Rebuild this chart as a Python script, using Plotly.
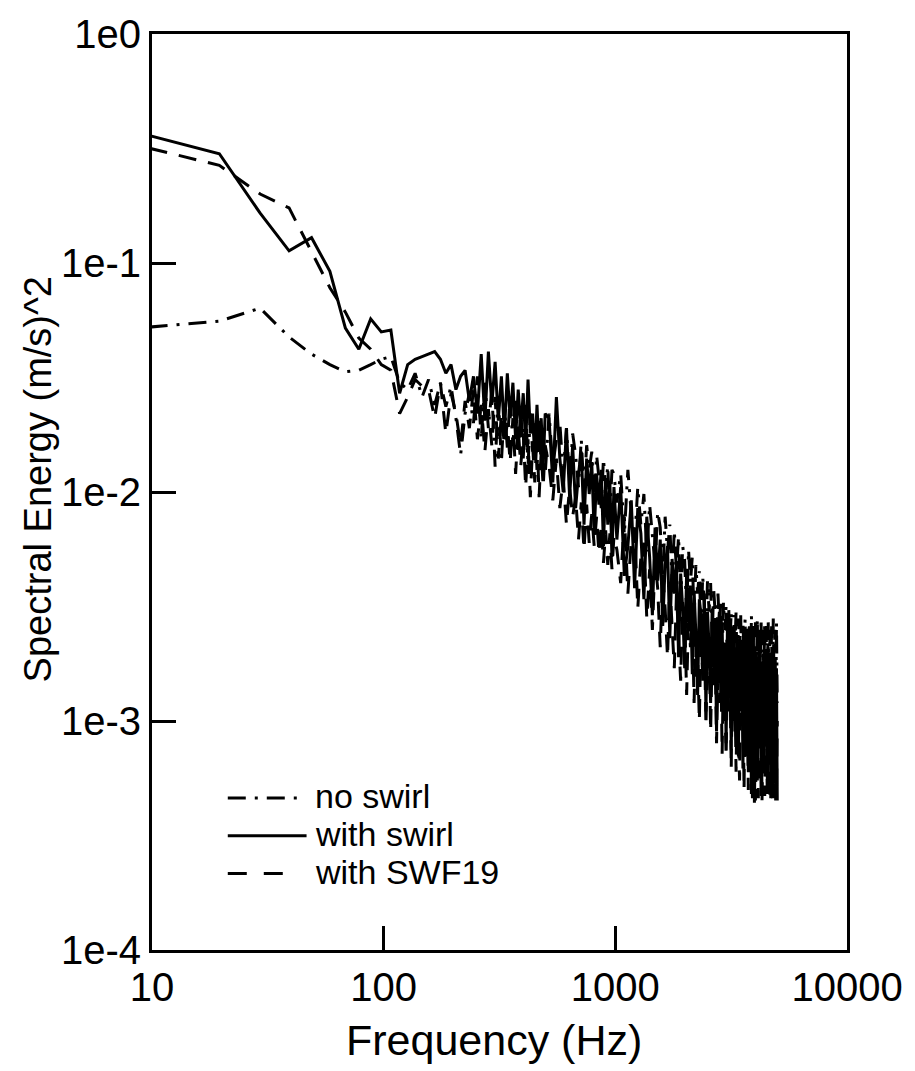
import plotly.graph_objects as go

# ---- data -------------------------------------------------------------
DF = 9.765625  # FFT bin width (Hz)
bins = list(range(1, 52)) + list(range(53, 102, 2)) + list(range(104, 513, 4))
freq = [k * DF for k in bins]

# "with swirl" (solid)
swirl_lo = [0.36, 0.30, 0.165, 0.113, 0.129, 0.092, 0.052, 0.042, 0.057, 0.050,
            0.051, 0.027, 0.036, 0.038, 0.039, 0.040, 0.041, 0.038, 0.033, 0.036,
            0.028, 0.032, 0.034, 0.025, 0.032, 0.022, 0.040, 0.0205, 0.041, 0.024,
            0.037, 0.0205, 0.032, 0.018, 0.033, 0.021, 0.030, 0.017, 0.028, 0.019,
            0.027, 0.016, 0.031, 0.018, 0.022, 0.014, 0.024, 0.015, 0.021, 0.013,
            0.022]
swirl_mid = [0.021, 0.011, 0.026, 0.014, 0.010, 0.019, 0.0095, 0.016, 0.0085, 0.012,
             0.015, 0.0072, 0.014, 0.0098, 0.0135, 0.0065, 0.012, 0.0088, 0.0125, 0.0058,
             0.0115, 0.0072, 0.011, 0.0052, 0.0105]
swirl_hi = [0.0062, 0.0105, 0.0043, 0.0058, 0.0092, 0.0038, 0.0085, 0.0066, 0.0034, 0.0078,
            0.0052, 0.0029, 0.0070, 0.0041, 0.0062, 0.0026, 0.0048, 0.0058, 0.0023, 0.0051,
            0.0036, 0.0050, 0.0019, 0.0044, 0.0031, 0.0017, 0.0045, 0.0027, 0.0039, 0.0016,
            0.0037, 0.0024, 0.0013, 0.0034, 0.0029, 0.0015, 0.0036, 0.0011, 0.0030, 0.0021,
            0.0012, 0.0031, 0.0018, 0.0028, 0.0009, 0.0024, 0.0030, 0.0013, 0.0027, 0.0010,
            0.0022, 0.0008, 0.0026, 0.0017, 0.0024, 0.00075, 0.0019, 0.0025, 0.0009, 0.0021,
            0.0014, 0.0007, 0.0023, 0.0011, 0.0020, 0.00062, 0.0024, 0.0016, 0.0007, 0.0021,
            0.0006, 0.0018, 0.0022, 0.00048, 0.0015, 0.0023, 0.00044, 0.0012, 0.0020, 0.00055,
            0.0019, 0.0009, 0.0021, 0.00047, 0.0017, 0.0013, 0.0006, 0.0020, 0.0008, 0.0019,
            0.00052, 0.0021, 0.0011, 0.0018, 0.00046, 0.0016, 0.0020, 0.00058, 0.0014, 0.0019,
            0.00045, 0.0017, 0.00045]

# "no swirl" (dash-dot)
noswirl_lo = [0.0525, 0.0557, 0.0635, 0.0475, 0.040, 0.036, 0.0335, 0.034, 0.036, 0.038,
              0.039, 0.030, 0.028, 0.033, 0.026, 0.031, 0.024, 0.030, 0.0236, 0.029,
              0.021, 0.0145, 0.022, 0.027, 0.020, 0.032, 0.017, 0.030, 0.019, 0.028,
              0.0129, 0.026, 0.0135, 0.024, 0.0156, 0.027, 0.016, 0.025, 0.015, 0.023,
              0.014, 0.024, 0.013, 0.022, 0.015, 0.020, 0.0125, 0.021, 0.013, 0.019,
              0.012]
noswirl_mid = [0.022, 0.013, 0.017, 0.020, 0.012, 0.019, 0.011, 0.018, 0.0145, 0.0105,
               0.017, 0.0098, 0.016, 0.0125, 0.015, 0.009, 0.0145, 0.0115, 0.0085, 0.014,
               0.0105, 0.013, 0.0078, 0.0125, 0.012]
noswirl_hi = [0.0090, 0.0120, 0.0065, 0.0125, 0.0080, 0.0060, 0.0105, 0.0072, 0.0098, 0.0055,
              0.0088, 0.0062, 0.0048, 0.0082, 0.0070, 0.0042, 0.0078, 0.0055, 0.0072, 0.0040,
              0.0068, 0.0045, 0.0064, 0.0033, 0.0058, 0.0050, 0.0030, 0.0056, 0.0040, 0.0052,
              0.0028, 0.0048, 0.0036, 0.0045, 0.0025, 0.0043, 0.0033, 0.0024, 0.0041, 0.0030,
              0.0040, 0.0022, 0.0038, 0.0030, 0.0020, 0.0036, 0.0026, 0.0034, 0.0019, 0.0033,
              0.0025, 0.0032, 0.0017, 0.0031, 0.0022, 0.0030, 0.0016, 0.0029, 0.0021, 0.0030,
              0.0014, 0.0028, 0.0020, 0.0029, 0.0013, 0.0027, 0.0019, 0.0028, 0.0012, 0.0026,
              0.0018, 0.0027, 0.0011, 0.0029, 0.0017, 0.0026, 0.0010, 0.0027, 0.0016, 0.0028,
              0.0010, 0.0026, 0.0015, 0.0028, 0.0009, 0.0025, 0.0016, 0.0027, 0.00095, 0.0026,
              0.0015, 0.0027, 0.0009, 0.0025, 0.0014, 0.0026, 0.00085, 0.0028, 0.0015, 0.0025,
              0.0009, 0.0027, 0.0012]

# "with SWF19" (dashed)
swf_lo = [0.317, 0.267, 0.20, 0.174, 0.112, 0.078, 0.061, 0.047, 0.042, 0.036,
          0.034, 0.022, 0.026, 0.031, 0.029, 0.028, 0.021, 0.030, 0.018, 0.027,
          0.022, 0.016, 0.025, 0.019, 0.028, 0.017, 0.024, 0.015, 0.023, 0.016,
          0.026, 0.014, 0.022, 0.016, 0.020, 0.0135, 0.021, 0.012, 0.019, 0.013,
          0.018, 0.0105, 0.017, 0.0095, 0.016, 0.011, 0.018, 0.0095, 0.015, 0.0105,
          0.016]
swf_mid = [0.013, 0.0092, 0.014, 0.0085, 0.0115, 0.0072, 0.0105, 0.0078, 0.0095, 0.0062,
           0.0090, 0.0056, 0.0088, 0.0060, 0.0080, 0.0058, 0.0078, 0.0054, 0.0072, 0.0049,
           0.0068, 0.0048, 0.0066, 0.0046, 0.0064]
swf_hi = [0.0056, 0.0040, 0.0078, 0.0036, 0.0062, 0.0070, 0.0031, 0.0052, 0.0060, 0.0028,
          0.0046, 0.0025, 0.0050, 0.0038, 0.0021, 0.0044, 0.0031, 0.0019, 0.0040, 0.0027,
          0.0017, 0.0036, 0.0024, 0.0015, 0.0033, 0.0029, 0.0013, 0.0030, 0.0021, 0.0029,
          0.0012, 0.0026, 0.0019, 0.0010, 0.0025, 0.0016, 0.0024, 0.00095, 0.0021, 0.0023,
          0.0009, 0.0020, 0.0014, 0.0021, 0.0008, 0.0018, 0.0012, 0.0019, 0.00072, 0.0017,
          0.0013, 0.0007, 0.0018, 0.0011, 0.0016, 0.00062, 0.0017, 0.0010, 0.0015, 0.0006,
          0.0014, 0.0009, 0.00055, 0.0015, 0.0011, 0.0014, 0.0005, 0.0013, 0.0008, 0.0015,
          0.0005, 0.0012, 0.0009, 0.0014, 0.00046, 0.0011, 0.0013, 0.00045, 0.0010, 0.0013,
          0.00046, 0.0012, 0.0008, 0.0013, 0.00045, 0.0010, 0.0012, 0.00047, 0.0009, 0.0012,
          0.00048, 0.0011, 0.0012, 0.00046, 0.0013, 0.0008, 0.00045, 0.0012, 0.0010, 0.00046,
          0.0011, 0.00048, 0.0010]

with_swirl = swirl_lo + swirl_mid + swirl_hi
no_swirl = noswirl_lo + noswirl_mid + noswirl_hi
with_swf19 = swf_lo + swf_mid + swf_hi
assert len(with_swirl) == len(freq) == len(no_swirl) == len(with_swf19)

x_tickvals = [10, 100, 1000, 10000]
x_ticktext = ["10", "100", "1000", "10000"]
y_tickvals = [1e-4, 1e-3, 1e-2, 1e-1, 1]
y_ticktext = ["1e-4", "1e-3", "1e-2", "1e-1", "1e0"]

legend_labels = ["no swirl", "with swirl", "with SWF19"]

# ---- figure -----------------------------------------------------------
FONT = "Liberation Sans, Arial, Helvetica, sans-serif"
DASHDOT = "18px,9px,3px,9px"
DASH = "18px,12px"
LW = 3

fig = go.Figure()
fig.add_trace(go.Scatter(x=freq, y=no_swirl, mode="lines", name=legend_labels[0],
                         line=dict(color="black", width=LW, dash=DASHDOT)))
fig.add_trace(go.Scatter(x=freq, y=with_swf19, mode="lines", name=legend_labels[2],
                         line=dict(color="black", width=LW, dash=DASH)))
fig.add_trace(go.Scatter(x=freq, y=with_swirl, mode="lines", name=legend_labels[1],
                         line=dict(color="black", width=LW)))

axis_common = dict(type="log", showgrid=False, zeroline=False, showline=True,
                   linecolor="black", linewidth=3, mirror=True, ticks="inside",
                   ticklen=24, tickwidth=2.5, tickcolor="black",
                   tickfont=dict(family=FONT, size=40, color="black"))
fig.update_xaxes(range=[1, 4], tickvals=x_tickvals, ticktext=x_ticktext, **axis_common)
fig.update_yaxes(range=[-4, 0], tickvals=y_tickvals, ticktext=y_ticktext, **axis_common)

# plot area: x 152..849, y 28..950 (pixels)
L, R, T, B = 152, 849, 28, 950
def px(x):
    return (x - L) / (R - L)
def py(y):
    return (B - y) / (B - T)

annotations = [
    dict(text="Frequency (Hz)", x=px(495), y=py(1041), xref="paper", yref="paper",
         xanchor="center", yanchor="middle", showarrow=False,
         font=dict(family=FONT, size=43, color="black")),
    dict(text="Spectral Energy (m/s)^2", x=px(38), y=py(476), xref="paper", yref="paper",
         xanchor="center", yanchor="middle", textangle=-90, showarrow=False,
         font=dict(family=FONT, size=38, color="black")),
]
legend_rows = [(797, 795, DASHDOT, 303), (835, 833, "solid", 307), (873, 871, "19px,17px", 287)]
shapes = []
for (ly, ty, dsh, xend), lab in zip(legend_rows, legend_labels):
    shapes.append(dict(type="line", xref="paper", yref="paper", x0=px(228), x1=px(xend),
                       y0=py(ly), y1=py(ly), line=dict(color="black", width=LW, dash=dsh)))
    annotations.append(dict(text=lab, x=px(313), y=py(ty), xref="paper", yref="paper",
                            xanchor="left", yanchor="middle", showarrow=False,
                            font=dict(family=FONT, size=34, color="black")))

fig.update_layout(width=915, height=1071, margin=dict(l=L, r=915 - R, t=T, b=1071 - B),
                  paper_bgcolor="white", plot_bgcolor="white", showlegend=False,
                  annotations=annotations, shapes=shapes)

fig.write_html("out.html")
